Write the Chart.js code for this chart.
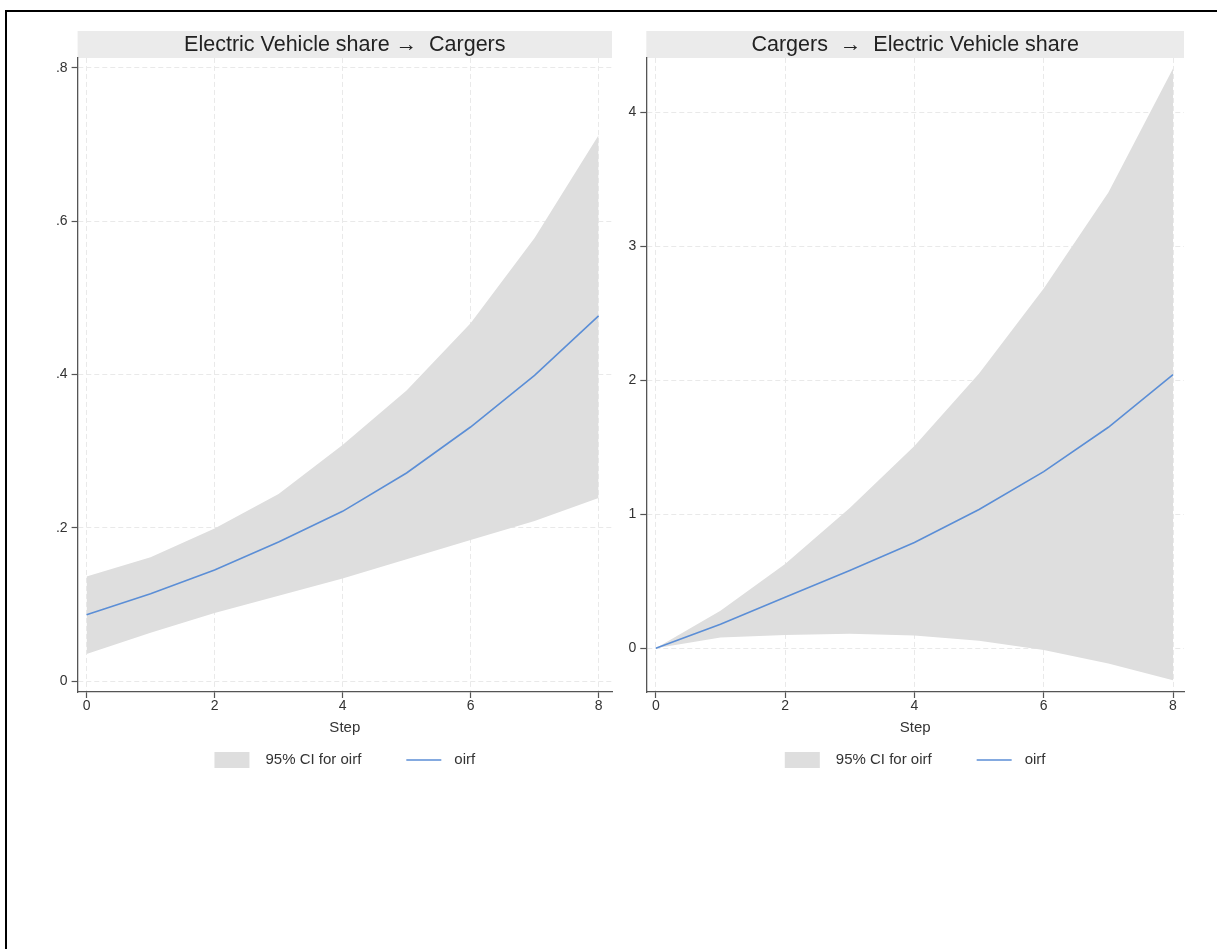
<!DOCTYPE html>
<html>
<head>
<meta charset="utf-8">
<title>oirf</title>
<script src="https://cdn.jsdelivr.net/npm/chart.js@4.4.1/dist/chart.umd.min.js"></script>
<style>
    html, body { margin: 0; padding: 0; background: #fff; overflow: hidden; width: 1217px; height: 949px; }
    #frame { position: absolute; left: 5px; top: 10px; width: 1212px; height: 939px; border-top: 2px solid #000; border-left: 2px solid #000; }
    canvas { position: absolute; top: 0; }
    #evChart { left: 0; }
    #cgChart { left: 620px; }
</style>
</head>
<body>
<div id="frame"></div>
<canvas id="evChart" width="620" height="800"></canvas>
<canvas id="cgChart" width="597" height="800"></canvas>
<script>
// Шаги и подписи оси X
var steps = [0, 1, 2, 3, 4, 5, 6, 7, 8];
var xTicks = [0, 2, 4, 6, 8];

// Electric Vehicle share -> Cargers
var evOirf  = [0.0865, 0.114, 0.145, 0.1815, 0.2215, 0.2715, 0.3315, 0.399, 0.4765];
var evUpper = [0.1365, 0.1615, 0.199, 0.244, 0.308, 0.379, 0.467, 0.578, 0.712];
var evLower = [0.0355, 0.063, 0.089, 0.1115, 0.134, 0.159, 0.184, 0.209, 0.239];
var evYTicks = [0, 0.2, 0.4, 0.6, 0.8];
var evYLabels = ['0', '.2', '.4', '.6', '.8'];

// Cargers -> Electric Vehicle share
var cgOirf  = [0, 0.18, 0.38, 0.58, 0.79, 1.036, 1.318, 1.649, 2.042];
var cgUpper = [0, 0.28, 0.628, 1.046, 1.51, 2.05, 2.685, 3.40, 4.325];
var cgLower = [0, 0.08, 0.10, 0.108, 0.096, 0.056, -0.012, -0.114, -0.238];
var cgYTicks = [0, 1, 2, 3, 4];
var cgYLabels = ['0', '1', '2', '3', '4'];

var fontFamily = '"Liberation Sans", Arial, Helvetica, sans-serif';
var bandColor = '#dedede';
var lineColor = '#5b8ed6';
var axisColor = '#555';
var gridColor = '#e9e9e9';
var textColor = '#333';

Chart.defaults.font.family = fontFamily;

function toPoints(values) {
    return steps.map(function(s, i) { return { x: s, y: values[i] }; });
}

// Серая плашка под заголовком панели
var stripPlugin = {
    id: 'strip',
    beforeDraw: function(chart) {
        var t = chart.titleBlock, a = chart.chartArea, ctx = chart.ctx;
        ctx.save();
        ctx.fillStyle = '#ebebeb';
        ctx.fillRect(a.left, t.top, a.right - a.left, t.height);
        ctx.restore();
    }
};

// Легенда в стиле Stata: область ДИ + линия oirf
var ciLegend = {
    id: 'ciLegend',
    afterDraw: function(chart) {
        var ctx = chart.ctx, a = chart.chartArea;
        var ds = chart.data.datasets;
        var t1 = ds[1].label, t2 = ds[0].label;
        var y = a.bottom + 68;
        ctx.save();
        ctx.font = '15px ' + fontFamily;
        var w1 = ctx.measureText(t1).width, w2 = ctx.measureText(t2).width;
        var total = 35 + 16 + w1 + 45 + 35 + 13 + w2;
        var x = (a.left + a.right) / 2 - total / 2;
        ctx.fillStyle = bandColor;
        ctx.fillRect(x, y - 8, 35, 16);
        ctx.fillStyle = textColor;
        ctx.textBaseline = 'middle';
        ctx.fillText(t1, x + 51, y);
        x += 51 + w1 + 45;
        ctx.strokeStyle = lineColor;
        ctx.lineWidth = 1.6;
        ctx.beginPath();
        ctx.moveTo(x, y);
        ctx.lineTo(x + 35, y);
        ctx.stroke();
        ctx.fillText(t2, x + 48, y);
        ctx.restore();
    }
};

function makeChart(id, cfg) {
    return new Chart(document.getElementById(id), {
        type: 'line',
        data: {
            datasets: [
                { label: 'oirf', data: toPoints(cfg.oirf), borderColor: lineColor, borderWidth: 1.6, pointRadius: 0, fill: false },
                { label: '95% CI for oirf', data: toPoints(cfg.upper), borderColor: 'rgba(0,0,0,0)', borderWidth: 0, pointRadius: 0, backgroundColor: bandColor, fill: '+1' },
                { label: 'lower', data: toPoints(cfg.lower), borderColor: 'rgba(0,0,0,0)', borderWidth: 0, pointRadius: 0, fill: false }
            ]
        },
        options: {
            responsive: false,
            animation: false,
            devicePixelRatio: 1,
            events: [],
            layout: { padding: cfg.padding },
            plugins: {
                legend: { display: false },
                tooltip: { enabled: false },
                title: {
                    display: true,
                    text: cfg.title,
                    fullSize: false,
                    color: '#222',
                    font: { size: 21.5, weight: 'normal', lineHeight: 1.1 },
                    padding: { top: 2.5, bottom: 0.8 }
                }
            },
            scales: {
                x: {
                    type: 'linear',
                    min: cfg.xMin,
                    max: cfg.xMax,
                    afterBuildTicks: function(s) { s.ticks = xTicks.map(function(v) { return { value: v }; }); },
                    afterFit: function(s) { s.height = 50; },
                    ticks: { color: textColor, font: { size: 14 }, padding: 0, maxRotation: 0, callback: function(v) { return String(v); } },
                    grid: { color: gridColor, tickColor: axisColor, tickLength: 6, tickWidth: 1.2 },
                    border: { color: axisColor, width: 1.3, dash: [5, 3] },
                    title: { display: true, text: 'Step', color: textColor, font: { size: 15 }, padding: { top: 0, bottom: 5.3 } }
                },
                y: {
                    min: cfg.yMin,
                    max: cfg.yMax,
                    afterBuildTicks: function(s) { s.ticks = cfg.yTicks.map(function(v) { return { value: v }; }); },
                    afterFit: function(s) { s.width = cfg.yWidth; },
                    ticks: { color: textColor, font: { size: 14 }, padding: 4, callback: function(v, i) { return cfg.yLabels[i]; } },
                    grid: { color: gridColor, tickColor: axisColor, tickLength: 6, tickWidth: 1.2 },
                    border: { color: axisColor, width: 1.3, dash: [5, 3] }
                }
            }
        },
        plugins: [stripPlugin, ciLegend]
    });
}

makeChart('evChart', {
    title: 'Electric Vehicle share \u2192  Cargers',
    oirf: evOirf, upper: evUpper, lower: evLower,
    yTicks: evYTicks, yLabels: evYLabels,
    xMin: -0.14, xMax: 8.21, yMin: -0.0142, yMax: 0.813,
    yWidth: 40,
    padding: { left: 37.6, right: 8, top: 31, bottom: 58 }
});

makeChart('cgChart', {
    title: 'Cargers  \u2192  Electric Vehicle share',
    oirf: cgOirf, upper: cgUpper, lower: cgLower,
    yTicks: cgYTicks, yLabels: cgYLabels,
    xMin: -0.147, xMax: 8.17, yMin: -0.326, yMax: 4.404,
    yWidth: 20,
    padding: { left: 6.3, right: 33, top: 31, bottom: 58 }
});
</script>
</body>
</html>
